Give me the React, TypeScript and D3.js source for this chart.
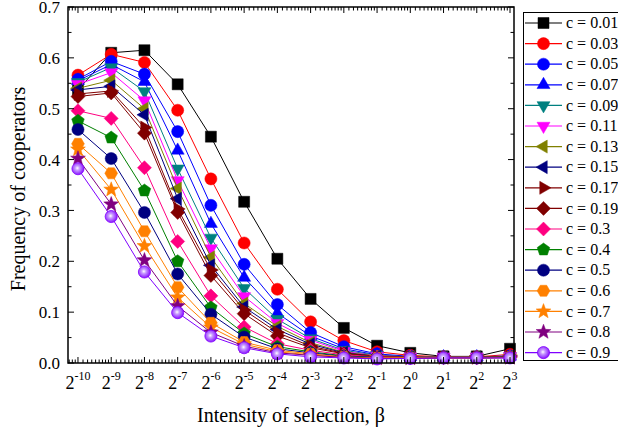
import React from 'react';
import * as d3 from 'd3';

// Selection intensity is sampled at powers of two: beta = 2^e
const exponents = [-10, -9, -8, -7, -6, -5, -4, -3, -2, -1, 0, 1, 2, 3];

const costLabels = ['0.01', '0.03', '0.05', '0.07', '0.09', '0.11', '0.13', '0.15', '0.17', '0.19', '0.3', '0.4', '0.5', '0.6', '0.7', '0.8', '0.9'];

const seriesColors = ['#000000', '#FF0000', '#0000FF', '#0000FF', '#008080', '#FF00FF', '#808000', '#000080', '#800000', '#800000', '#FF0080', '#008000', '#000080', '#FF8000', '#FF8000', '#800080', '#8000FF'];

const seriesShapes = ['square', 'circle', 'circle', 'triUp', 'triDown', 'triDown', 'triLeft', 'triLeft', 'triRight', 'diamond', 'diamond', 'pentagon', 'circle', 'hexagon', 'star', 'star', 'sphere'];

// Frequency of cooperators for each cost c
const c001 = [0.537, 0.610, 0.615, 0.548, 0.445, 0.317, 0.205, 0.126, 0.069, 0.034, 0.020, 0.013, 0.013, 0.028];
const c003 = [0.566, 0.607, 0.591, 0.497, 0.362, 0.236, 0.145, 0.081, 0.044, 0.022, 0.015, 0.012, 0.012, 0.017];
const c005 = [0.558, 0.593, 0.568, 0.455, 0.310, 0.194, 0.115, 0.060, 0.032, 0.018, 0.013, 0.012, 0.012, 0.014];
const c007 = [0.555, 0.587, 0.553, 0.418, 0.274, 0.168, 0.098, 0.053, 0.028, 0.016, 0.012, 0.012, 0.012, 0.013];
const c009 = [0.552, 0.581, 0.534, 0.382, 0.246, 0.147, 0.086, 0.048, 0.025, 0.015, 0.012, 0.012, 0.012, 0.013];
const c011 = [0.548, 0.571, 0.516, 0.359, 0.225, 0.131, 0.078, 0.045, 0.023, 0.014, 0.012, 0.012, 0.012, 0.013];
const c013 = [0.540, 0.556, 0.500, 0.343, 0.208, 0.117, 0.072, 0.040, 0.021, 0.014, 0.012, 0.012, 0.012, 0.013];
const c015 = [0.537, 0.544, 0.488, 0.323, 0.192, 0.110, 0.066, 0.037, 0.020, 0.013, 0.011, 0.011, 0.011, 0.012];
const c017 = [0.529, 0.535, 0.463, 0.303, 0.183, 0.104, 0.060, 0.033, 0.019, 0.013, 0.011, 0.011, 0.011, 0.012];
const c019 = [0.524, 0.531, 0.452, 0.296, 0.172, 0.097, 0.053, 0.030, 0.018, 0.012, 0.011, 0.011, 0.011, 0.012];
const c03 = [0.496, 0.481, 0.384, 0.239, 0.132, 0.071, 0.038, 0.025, 0.016, 0.012, 0.011, 0.011, 0.011, 0.012];
const c04 = [0.476, 0.443, 0.339, 0.200, 0.109, 0.058, 0.032, 0.022, 0.014, 0.011, 0.011, 0.011, 0.011, 0.012];
const c05 = [0.459, 0.402, 0.296, 0.175, 0.096, 0.051, 0.028, 0.020, 0.013, 0.011, 0.010, 0.010, 0.010, 0.011];
const c06 = [0.431, 0.373, 0.259, 0.149, 0.079, 0.041, 0.025, 0.018, 0.012, 0.010, 0.010, 0.010, 0.010, 0.011];
const c07 = [0.420, 0.341, 0.230, 0.129, 0.070, 0.037, 0.022, 0.016, 0.011, 0.010, 0.010, 0.010, 0.010, 0.011];
const c08 = [0.402, 0.312, 0.202, 0.112, 0.060, 0.033, 0.020, 0.015, 0.011, 0.009, 0.009, 0.010, 0.010, 0.010];
const c09 = [0.382, 0.288, 0.179, 0.099, 0.053, 0.030, 0.018, 0.012, 0.010, 0.008, 0.009, 0.010, 0.010, 0.010];

const seriesValues = [c001, c003, c005, c007, c009, c011, c013, c015, c017, c019, c03, c04, c05, c06, c07, c08, c09];

const yTicks = [0, 0.1, 0.2, 0.3, 0.4, 0.5, 0.6, 0.7];

const W = 618;
const H = 434;
const plot = { left: 68, right: 514, top: 7, bottom: 363 };
const FONT = '"Liberation Serif", "Times New Roman", serif';

const x = d3.scaleLog().base(2).domain([2 ** -10.3, 2 ** 3.12]).range([plot.left, plot.right]);
const y = d3.scaleLinear().domain([0, 0.7]).range([plot.bottom, plot.top]);

function polygon(n: number, r: number, rot: number): string {
  const pts: [number, number][] = [];
  for (let i = 0; i < n; i++) {
    const a = rot + (i * 2 * Math.PI) / n;
    pts.push([r * Math.sin(a), -r * Math.cos(a)]);
  }
  return 'M' + pts.map((p) => p[0].toFixed(2) + ',' + p[1].toFixed(2)).join('L') + 'Z';
}

function starPath(ro: number, ri: number): string {
  const pts: [number, number][] = [];
  for (let i = 0; i < 10; i++) {
    const r = i % 2 === 0 ? ro : ri;
    const a = (i * Math.PI) / 5;
    pts.push([r * Math.sin(a), -r * Math.cos(a)]);
  }
  return 'M' + pts.map((p) => p[0].toFixed(2) + ',' + p[1].toFixed(2)).join('L') + 'Z';
}

const shapePaths: Record<string, string> = {
  square: 'M-5.5,-5.5L5.5,-5.5L5.5,5.5L-5.5,5.5Z',
  circle: d3.symbol(d3.symbolCircle, 115)() as string,
  sphere: d3.symbol(d3.symbolCircle, 115)() as string,
  triUp: polygon(3, 7.5, 0),
  triDown: polygon(3, 7.5, Math.PI),
  triLeft: polygon(3, 7.5, -Math.PI / 2),
  triRight: polygon(3, 7.5, Math.PI / 2),
  diamond: polygon(4, 7, 0),
  pentagon: polygon(5, 6.6, 0),
  hexagon: polygon(6, 6.4, Math.PI / 6),
  star: starPath(7.8, 3.3),
};

function Marker({ shape, color, cx, cy }: { shape: string; color: string; cx: number; cy: number }) {
  const fill = shape === 'sphere' ? 'url(#sphereFill)' : color;
  return (
    <path
      d={shapePaths[shape]}
      transform={`translate(${cx},${cy})`}
      fill={fill}
      stroke={color}
      strokeWidth={shape === 'sphere' ? 0.8 : 0.5}
    />
  );
}

export default function App() {
  const line = d3
    .line<number>()
    .x((_, i) => x(2 ** exponents[i]))
    .y((v) => y(v));

  // minor ticks at linear steps of 2^e / 9 inside each octave
  const minorX: number[] = [];
  for (let e = -11; e <= 3; e++) {
    for (let k = 1; k <= 8; k++) {
      const v = 2 ** e * (1 + k / 9);
      const px = x(v);
      if (px > plot.left + 0.5 && px < plot.right - 0.5) minorX.push(px);
    }
  }
  const minorY = yTicks.slice(0, -1).map((t) => t + 0.05);

  const legendTop = 23;
  const legendStep = 20.6;

  return (
    <svg
      width={W}
      height={H}
      style={{ position: 'absolute', left: 0, top: 0, background: '#fff' }}
      fontFamily={FONT}
    >
      <defs>
        <radialGradient id="sphereFill" cx="0.45" cy="0.45" r="0.6">
          <stop offset="0" stopColor="#ffffff" />
          <stop offset="0.3" stopColor="#c89cff" />
          <stop offset="1" stopColor="#8000ff" />
        </radialGradient>
      </defs>
      <rect x={0} y={0} width={W} height={H} fill="#fff" />

      {/* series */}
      <g>
        {seriesValues.map((vals, si) => (
          <g key={si}>
            <path d={line(vals) as string} fill="none" stroke={seriesColors[si]} strokeWidth={1} />
            {vals.map((v, i) => (
              <Marker key={i} shape={seriesShapes[si]} color={seriesColors[si]} cx={x(2 ** exponents[i])} cy={y(v)} />
            ))}
          </g>
        ))}
      </g>

      {/* frame */}
      <rect
        x={plot.left}
        y={plot.top}
        width={plot.right - plot.left}
        height={plot.bottom - plot.top}
        fill="none"
        stroke="#000"
        strokeWidth={1.5}
      />

      {/* x ticks, bottom and top */}
      <g stroke="#000" strokeWidth={1}>
        {exponents.map((e) => {
          const px = x(2 ** e);
          return (
            <g key={e}>
              <line x1={px} x2={px} y1={plot.bottom} y2={plot.bottom - 6} />
              <line x1={px} x2={px} y1={plot.top} y2={plot.top + 6} />
            </g>
          );
        })}
        {minorX.map((px, i) => (
          <g key={i}>
            <line x1={px} x2={px} y1={plot.bottom} y2={plot.bottom - 3.5} />
            <line x1={px} x2={px} y1={plot.top} y2={plot.top + 3.5} />
          </g>
        ))}
      </g>

      {/* y ticks, left and right */}
      <g stroke="#000" strokeWidth={1}>
        {yTicks.map((t) => (
          <g key={t}>
            <line x1={plot.left} x2={plot.left + 6} y1={y(t)} y2={y(t)} />
            <line x1={plot.right} x2={plot.right - 6} y1={y(t)} y2={y(t)} />
          </g>
        ))}
        {minorY.map((t) => (
          <g key={t}>
            <line x1={plot.left} x2={plot.left + 3.5} y1={y(t)} y2={y(t)} />
            <line x1={plot.right} x2={plot.right - 3.5} y1={y(t)} y2={y(t)} />
          </g>
        ))}
      </g>

      {/* tick labels */}
      <g fill="#000" fontSize={17}>
        {yTicks.map((t) => (
          <text key={t} x={60} y={y(t)} dy="0.36em" textAnchor="end">
            {t.toFixed(1)}
          </text>
        ))}
        {exponents.map((e) => (
          <text key={e} x={x(2 ** e)} y={389} textAnchor="middle" fontSize={18}>
            2
            <tspan fontSize={12} dy={-9}>
              {e}
            </tspan>
          </text>
        ))}
      </g>

      {/* axis titles */}
      <text x={291} y={422} textAnchor="middle" fontSize={20} fill="#000">
        Intensity of selection, β
      </text>
      <text
        transform={`translate(25,189) rotate(-90)`}
        textAnchor="middle"
        fontSize={20}
        fill="#000"
      >
        Frequency of cooperators
      </text>

      {/* legend */}
      <rect x={523.5} y={12.5} width={100} height={348} fill="#fff" stroke="#000" strokeWidth={1} />
      {costLabels.map((c, i) => {
        const ly = legendTop + i * legendStep;
        return (
          <g key={c}>
            <line x1={525} x2={562} y1={ly} y2={ly} stroke={seriesColors[i]} strokeWidth={1.2} />
            <Marker shape={seriesShapes[i]} color={seriesColors[i]} cx={543.5} cy={ly} />
            <text x={566} y={ly} dy="0.33em" fontSize={16} fill="#000">
              c = {c}
            </text>
          </g>
        );
      })}
    </svg>
  );
}
